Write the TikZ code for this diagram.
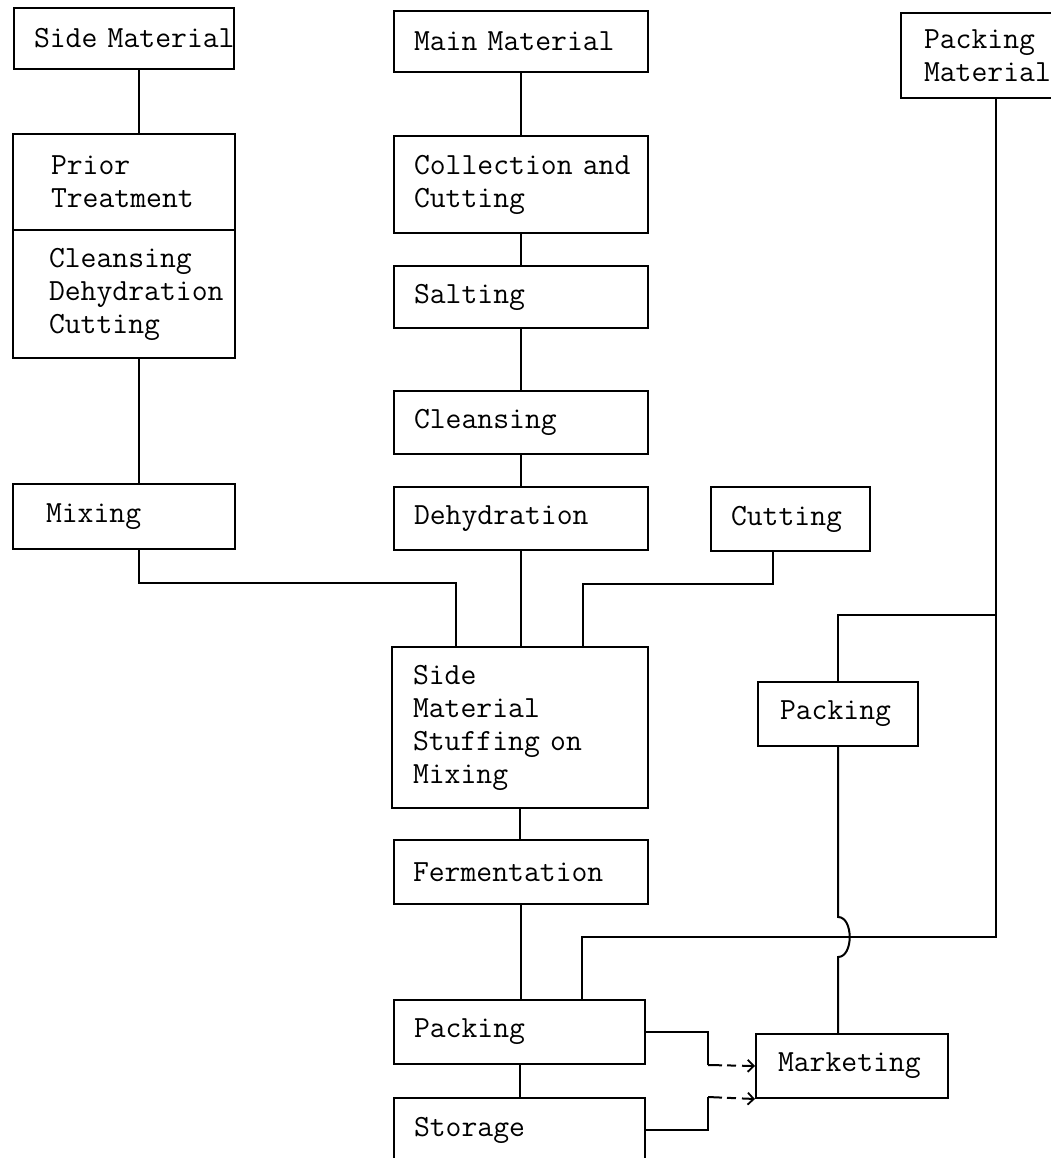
\documentclass[tikz,border=0pt]{standalone}
\usepackage{fontspec}
\usepackage{tikz}
\usetikzlibrary{arrows.meta}
\newcommand\stagefont{\ttfamily\fontsize{30.8}{33}\selectfont\hyphenpenalty=10000\relax
    \spaceskip=\fontcharwd\font`M\relax}

\begin{document}
\begin{tikzpicture}[x=1pt, y=-1pt,
        stage/.style={draw, line width=2pt, anchor=north west, align=left,
            inner ysep=0pt, font=\stagefont},
        link/.style={line width=2pt},
        flow/.style={line width=2pt, dash pattern=on 14pt off 5pt on 9pt off 6pt,
            -{Straight Barb[length=6pt, width=12pt, line width=1.8pt]}}]

            \useasboundingbox (0, 0) rectangle (1051, 1158);

            \node[stage, minimum height=61pt, text width=180pt, inner xsep=20pt] at (13, 7) (sidemat) {Side~Material};
            \node[stage, minimum height=96pt, text width=146pt, inner xsep=38pt] at (12, 133) (prior) {Prior\\Treatment};
            \node[stage, minimum height=128pt, text width=150pt, inner xsep=36pt] at (12, 229) (cleandc) {Cleansing\\Dehydration\\Cutting};
            \node[stage, minimum height=65pt, text width=156pt, inner xsep=33pt] at (12, 483) (mixing) {Mixing};

            \node[stage, minimum height=61pt, text width=214pt, inner xsep=20pt] at (393, 10) (mainmat) {Main Material};
            \node[stage, minimum height=97pt, text width=214pt, inner xsep=20pt] at (393, 135) (collect) {Collection~and\\Cutting};
            \node[stage, minimum height=62pt, text width=214pt, inner xsep=20pt] at (393, 265) (salting) {Salting};
            \node[stage, minimum height=63pt, text width=214pt, inner xsep=20pt] at (393, 390) (cleansing) {Cleansing};
            \node[stage, minimum height=63pt, text width=214pt, inner xsep=20pt] at (393, 486) (dehyd) {Dehydration};
            \node[stage, minimum height=161pt, text width=214pt, inner xsep=21pt] at (391, 646) (stuffing) {Side\\Material\\Stuffing~on\\Mixing};
            \node[stage, minimum height=64pt, text width=216pt, inner xsep=19pt] at (393, 839) (ferment) {Fermentation};
            \node[stage, minimum height=64pt, text width=211pt, inner xsep=20pt] at (393, 999) (packmain) {Packing};
            \node[stage, minimum height=64pt, text width=211pt, inner xsep=20pt] at (393, 1097) (storage) {Storage};

            \node[stage, minimum height=64pt, text width=119pt, inner xsep=20pt] at (710, 486) (cutting) {Cutting};
            \node[stage, minimum height=85pt, text width=144pt, inner xsep=23pt] at (900, 12) (packmat) {Packing\\Material};
            \node[stage, minimum height=64pt, text width=116pt, inner xsep=22pt] at (757, 681) (packside) {Packing};
            \node[stage, minimum height=64pt, text width=148pt, inner xsep=22pt] at (755, 1033) (market) {Marketing};

            \coordinate (upin) at (708, 1065);
            \coordinate (lowin) at (708, 1097);

            \draw[link] ([xshift=15pt]sidemat.south) -- ([xshift=15pt]prior.north);
            \draw[link] ([xshift=15pt]cleandc.south) -- ([xshift=15pt]mixing.north);
            \draw[link] ([xshift=15pt]mixing.south) -- ++(0, 33) -| ([xshift=-64pt]stuffing.north);

            \draw[link] (mainmat.south) -- (collect.north);
            \draw[link] (collect.south) -- (salting.north);
            \draw[link] (salting.south) -- (cleansing.north);
            \draw[link] (cleansing.south) -- (dehyd.north);
            \draw[link] (dehyd.south) -- (dehyd.south |- stuffing.north);
            \draw[link] ([xshift=-18pt]cutting.south) -- ++(0, 32) -| ([xshift=63pt]stuffing.north);
            \draw[link] (stuffing.south) -- (stuffing.south |- ferment.north);
            \draw[link] (ferment.south) -- (ferment.south |- packmain.north);
            \draw[link] (packmain.south) -- (storage.north);

            \draw[link] (packmat.south) -- ++(0, 838) -| ([xshift=62pt]packmain.north);
            \draw[link] (packside.north) -- ++(0, -66) -| (packmat.south);
            \draw[link] (packside.south) -- ++(0, 170) to[out=0, in=0] ++(0, 40) -- (packside.south |- market.north);

            \draw[link] (packmain.east) -| (upin);
            \draw[flow] (upin) -- (market.west);
            \draw[link] (storage.east) -| (lowin);
            \draw[flow] (lowin) -- (market.south west);
        \end{tikzpicture}
\end{document}
